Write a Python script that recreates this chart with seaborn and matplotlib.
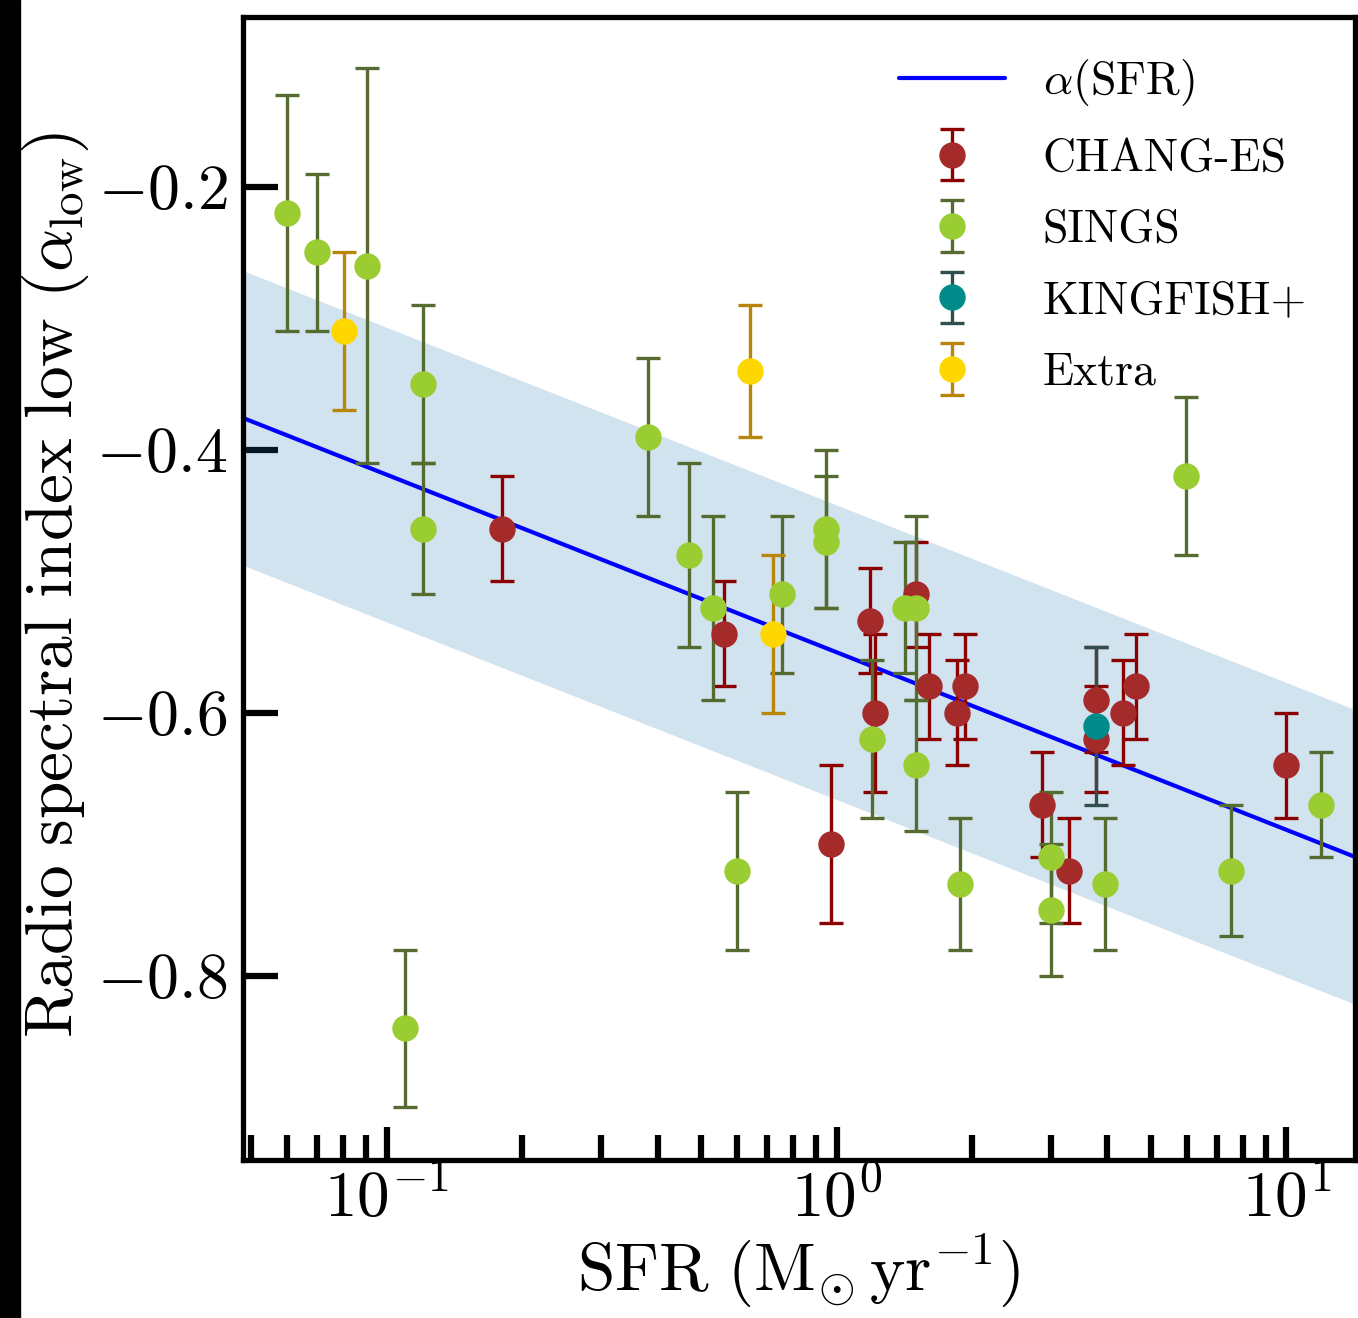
import matplotlib
matplotlib.use("Agg")
import matplotlib.pyplot as plt
from matplotlib.container import ErrorbarContainer
from matplotlib.legend_handler import HandlerErrorbar
from matplotlib.patches import Rectangle
from matplotlib.ticker import FixedLocator, FuncFormatter, LogLocator, NullFormatter
import numpy as np
import seaborn as sns

# values
changes_sfr = [0.180, 0.561, 1.184, 1.214, 1.498, 1.601, 1.848, 1.925, 0.970,
               2.855, 3.279, 3.763, 3.763, 4.32, 4.64, 9.95]
changes_alpha = [-0.46, -0.54, -0.53, -0.60, -0.51, -0.58, -0.60, -0.58, -0.70,
                 -0.67, -0.72, -0.59, -0.62, -0.60, -0.58, -0.64]
changes_err = [0.04, 0.04, 0.04, 0.06, 0.04, 0.04, 0.04, 0.04, 0.06,
               0.04, 0.04, 0.04, 0.04, 0.04, 0.04, 0.04]

sings_sfr = [0.0600, 0.0699, 0.0903, 0.1202, 0.1202, 0.1096, 0.380, 0.469, 0.530,
             0.600, 0.755, 0.945, 0.945, 1.196, 1.416, 1.498, 1.498, 1.876,
             2.99, 2.99, 3.94, 5.97, 7.51, 11.96]
sings_alpha = [-0.22, -0.25, -0.26, -0.35, -0.46, -0.84, -0.39, -0.48, -0.52,
               -0.72, -0.51, -0.46, -0.47, -0.62, -0.52, -0.52, -0.64, -0.73,
               -0.71, -0.75, -0.73, -0.42, -0.72, -0.67]
sings_err = [0.09, 0.06, 0.15, 0.06, 0.05, 0.06, 0.06, 0.07, 0.07,
             0.06, 0.06, 0.06, 0.05, 0.06, 0.05, 0.07, 0.05, 0.05,
             0.05, 0.05, 0.05, 0.06, 0.05, 0.04]

kingfish_sfr = [3.763]
kingfish_alpha = [-0.61]
kingfish_err = [0.06]

extra_sfr = [0.0802, 0.641, 0.721]
extra_alpha = [-0.31, -0.34, -0.54]
extra_err = [0.06, 0.05, 0.06]

# alpha(SFR) = a + b log10(SFR), with +/- scatter band
fit_intercept = -0.554
fit_slope = -0.135
fit_scatter = 0.112

sns.set_theme(style="ticks")
plt.rcParams.update({
    "mathtext.fontset": "cm",
    "axes.formatter.use_mathtext": True,
    "axes.edgecolor": "black",
    "axes.labelcolor": "black",
    "text.color": "black",
    "axes.linewidth": 3.8,
    "xtick.color": "black",
    "ytick.color": "black",
})
plt.rcParams["font.family"] = ["cmr10", "DejaVu Serif"]

fig = plt.figure(figsize=(13.58, 13.18), dpi=100)
ax = fig.add_axes([243 / 1358, 1 - 1160 / 1318, (1355 - 243) / 1358, (1160 - 17) / 1318])
ax.set_xscale("log")
xmin, xmax = 0.0479, 14.2

sfr_grid = np.logspace(np.log10(xmin), np.log10(xmax), 200)
fit_alpha = fit_intercept + fit_slope * np.log10(sfr_grid)
ax.fill_between(sfr_grid, fit_alpha - fit_scatter, fit_alpha + fit_scatter,
                color="#1f77b4", alpha=0.2, linewidth=0)
sns.lineplot(x=sfr_grid, y=fit_alpha, ax=ax, color="blue", linewidth=3,
             label=r"$\alpha(\mathrm{SFR})$")

groups = [
    ("CHANG-ES", changes_sfr, changes_alpha, changes_err, "brown", "darkred"),
    ("SINGS", sings_sfr, sings_alpha, sings_err, "yellowgreen", "darkolivegreen"),
    ("KINGFISH+", kingfish_sfr, kingfish_alpha, kingfish_err, "darkcyan", "darkslategray"),
    ("Extra", extra_sfr, extra_alpha, extra_err, "gold", "darkgoldenrod"),
]
for name, x, y, e, fc, ec in groups:
    ax.errorbar(x, y, yerr=e, fmt="o", ms=18, mfc=fc, mec=fc, ecolor=ec,
                elinewidth=2.4, capsize=8.5, capthick=2.4, label=name)

ax.set_xlim(xmin, xmax)
ax.set_ylim(-0.94, -0.071)

ax.xaxis.set_major_locator(LogLocator(base=10))
ax.xaxis.set_major_formatter(FuncFormatter(lambda v, _: rf"$10^{{{int(round(np.log10(v)))}}}$"))
ax.xaxis.set_minor_locator(LogLocator(base=10, subs=np.arange(2, 10)))
ax.xaxis.set_minor_formatter(NullFormatter())
ax.yaxis.set_major_locator(FixedLocator([-0.8, -0.6, -0.4, -0.2]))
ax.yaxis.set_major_formatter(FuncFormatter(lambda v, _: rf"$-{abs(v):.1f}$"))
ax.yaxis.set_minor_locator(FixedLocator([]))

ax.tick_params(axis="x", which="major", direction="in", length=24, width=4.5,
               top=False, labelsize=47, pad=6)
ax.tick_params(axis="x", which="minor", direction="in", length=18, width=4.5, top=False)
ax.tick_params(axis="y", which="major", direction="in", length=25, width=4.5,
               right=False, labelsize=46, pad=11)

ax.set_xlabel(r"$\mathrm{SFR}\ (\mathrm{M}_{\odot}\,\mathrm{yr}^{-1})$", fontsize=48.5)
ax.set_ylabel(r"$\mathrm{Radio\ spectral\ index\ low}\ (\alpha_{\mathrm{low}})$", fontsize=48.5)
ax.xaxis.set_label_coords(0.5, -0.063)
ax.yaxis.set_label_coords(-0.137, 0.503)

ax.legend(loc="upper right", bbox_to_anchor=(1.0, 1.007), frameon=False, fontsize=33,
          handlelength=2.3, handletextpad=0.83, labelspacing=0.65, borderaxespad=0.65,
          handler_map={ErrorbarContainer: HandlerErrorbar(xerr_size=0.56)})

fig.add_artist(Rectangle((0, 0), 20 / 1358, 1, transform=fig.transFigure,
                         color="black", zorder=0))

fig.savefig("out.png", dpi=100)
